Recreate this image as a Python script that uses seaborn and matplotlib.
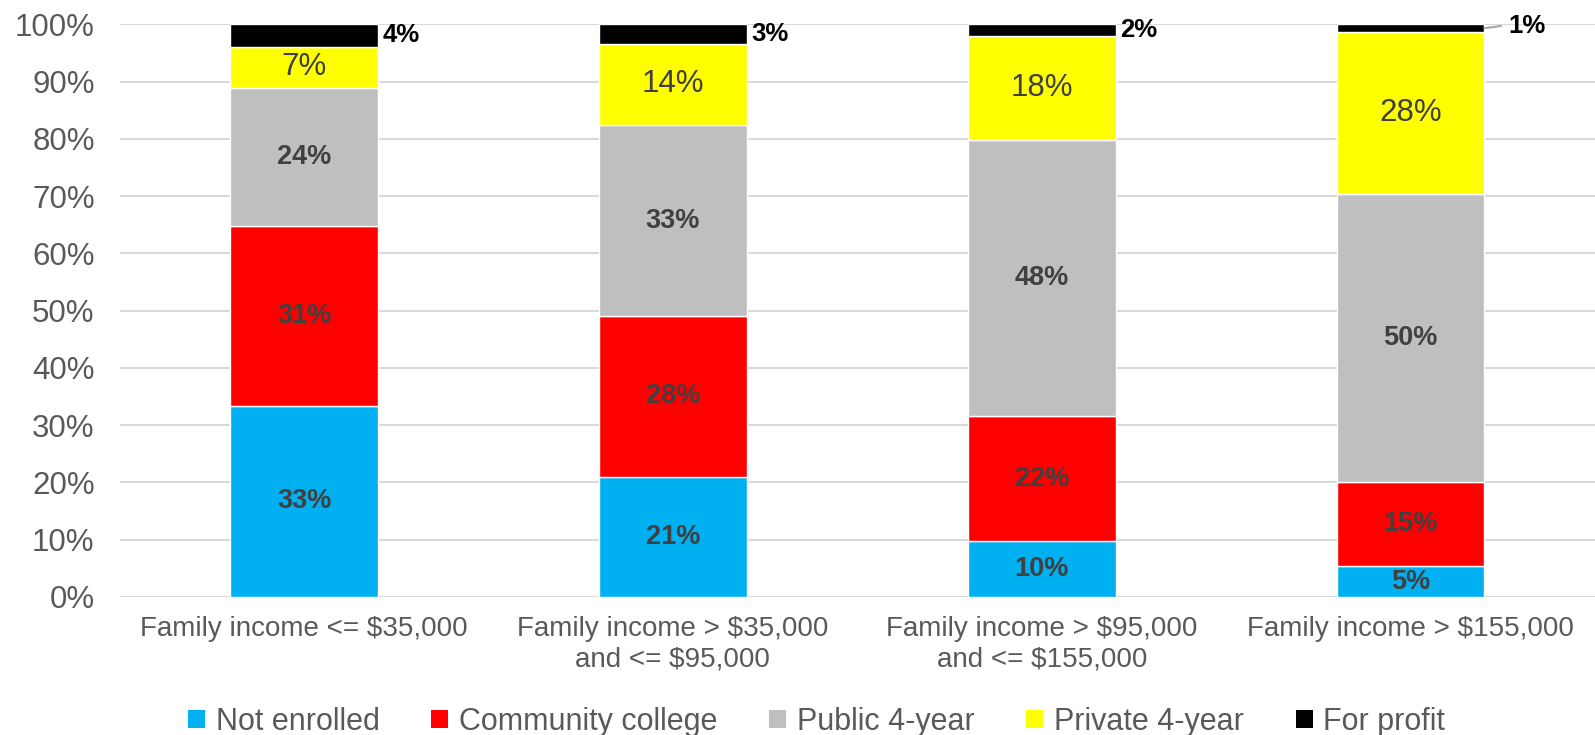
import matplotlib
matplotlib.use("Agg")
import matplotlib.pyplot as plt
import seaborn as sns
from matplotlib.patches import Patch

categories = [
    "Family income <= $35,000",
    "Family income > $35,000\nand <= $95,000",
    "Family income > $95,000\nand <= $155,000",
    "Family income > $155,000",
]
series_names = ["Not enrolled", "Community college", "Public 4-year", "Private 4-year", "For profit"]
not_enrolled = [33.4, 21.0, 9.8, 5.3]
community_college = [31.4, 28.0, 21.7, 14.7]
public_4yr = [24.0, 33.4, 48.3, 50.4]
private_4yr = [7.3, 14.2, 18.2, 28.2]
for_profit = [3.9, 3.4, 2.0, 1.4]
colors = ["#00B0F0", "#FF0000", "#BFBFBF", "#FFFF00", "#000000"]

sns.set_style("white")
plt.rcParams["font.family"] = ["Liberation Sans", "DejaVu Sans"]

fig, ax = plt.subplots(figsize=(15.95, 7.35), dpi=100)
fig.subplots_adjust(left=0.075, right=1.0, top=0.967, bottom=0.188)

all_series = [not_enrolled, community_college, public_4yr, private_4yr, for_profit]
bottom = [0.0] * len(categories)
for name, vals, col in zip(series_names, all_series, colors):
    sns.barplot(x=categories, y=vals, bottom=bottom, color=col, width=0.4,
                saturation=1, ax=ax, zorder=3)
    for i, (v, b) in enumerate(zip(vals, bottom)):
        txt = f"{round(v)}%"
        if name == "For profit":
            if v < 1.8:
                # tiny segment: label pulled out with a leader line
                ax.plot([i + 0.2, i + 0.245], [b + v / 2, b + v / 2 + 0.4],
                        color="#A6A6A6", lw=1.5, zorder=4)
                ax.text(i + 0.265, b + v / 2 + 0.4, txt, ha="left", va="center",
                        fontsize=18.5, fontweight="bold", color="black")
            else:
                ax.text(i + 0.212, b + v / 2, txt, ha="left", va="center",
                        fontsize=18.5, fontweight="bold", color="black")
        elif name == "Private 4-year":
            ax.text(i, b + v / 2, txt, ha="center", va="center",
                    fontsize=22.5, color="#404040", zorder=5)
        else:
            ax.text(i, b + v / 2, txt, ha="center", va="center",
                    fontsize=19.5, fontweight="bold", color="#404040", zorder=5)
    bottom = [b + v for b, v in zip(bottom, vals)]

ax.set_ylim(0, 100)
ax.set_xlim(-0.5, 3.5)
ax.set_yticks(range(0, 101, 10))
ax.set_yticklabels([f"{t}%" for t in range(0, 101, 10)])
ax.yaxis.grid(True, color="#D9D9D9", lw=1.5, zorder=0)
ax.set_axisbelow(True)
for s in ax.spines.values():
    s.set_visible(False)
ax.tick_params(axis="y", labelsize=22.5, labelcolor="#595959", length=0, pad=18)
ax.tick_params(axis="x", labelsize=20, labelcolor="#595959", length=0, pad=14)
ax.set_xlabel("")
ax.set_ylabel("")

handles = [Patch(facecolor=c, edgecolor="none") for c in colors]
fig.legend(handles, series_names, loc="lower center", ncol=5, frameon=False,
           fontsize=22, labelcolor="#595959", bbox_to_anchor=(0.512, -0.04),
           handlelength=0.55, handleheight=0.55, handletextpad=0.35, columnspacing=1.7)

fig.savefig("out.png", dpi=100)
